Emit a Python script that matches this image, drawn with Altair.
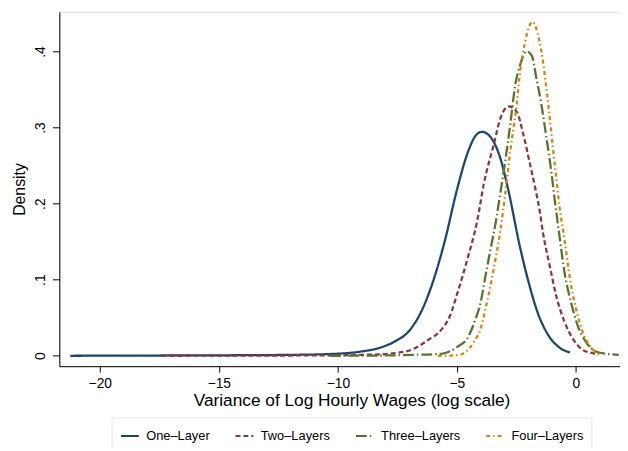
import altair as alt
import pandas as pd

series_names = ["One–Layer", "Two–Layers", "Three–Layers", "Four–Layers"]
series_colors = ["#1a476f", "#90353b", "#55752f", "#e37e00"]
series_dashes = [[1, 0], [5, 3], [11, 3, 1.5, 3], [4, 3, 1.5, 3]]

one_x = [-21.24, -18, -15, -12, -10.4, -9.0, -8.3, -7.6, -7.0, -6.5, -6.0, -5.5, -5.0,
         -4.5, -4.2, -3.95, -3.6, -3.2, -2.8, -2.4, -2.0, -1.6, -1.2, -0.7, -0.25]
one_y = [0.0, 0.0003, 0.0006, 0.0012, 0.0022, 0.0057, 0.010, 0.019, 0.033, 0.058, 0.098,
         0.152, 0.218, 0.271, 0.290, 0.2945, 0.288, 0.262, 0.212, 0.150, 0.098, 0.056,
         0.029, 0.011, 0.0044]

two_x = [-17.4, -14, -11, -9, -8, -7.6, -6.9, -6.2, -5.66, -5.3, -4.97, -4.56, -4.14,
         -3.87, -3.45, -3.17, -2.83, -2.49, -2.21, -1.93, -1.72, -1.52, -1.38, -1.10,
         -0.83, -0.48, -0.14, 0.28, 0.69, 0.97]
two_y = [0.0, 0.0002, 0.0005, 0.0012, 0.0022, 0.0035, 0.008, 0.021, 0.034, 0.052,
         0.0835, 0.127, 0.1786, 0.226, 0.278, 0.3126, 0.3278, 0.321, 0.291, 0.252,
         0.222, 0.190, 0.161, 0.118, 0.079, 0.0446, 0.023, 0.0078, 0.0035, 0.002]

three_x = [-10.33, -8, -6.77, -5.66, -5.25, -4.97, -4.56, -4.21, -4.00, -3.80, -3.59,
           -3.38, -3.17, -2.97, -2.76, -2.55, -2.35, -2.07, -1.86, -1.66, -1.45, -1.24,
           -1.04, -0.90, -0.69, -0.48, -0.21, 0.07, 0.41, 0.83, 1.38, 1.80]
three_y = [0.0, 0.0004, 0.0013, 0.0026, 0.0065, 0.012, 0.023, 0.049, 0.0706, 0.105,
           0.1397, 0.174, 0.215, 0.256, 0.304, 0.356, 0.382, 0.400, 0.395, 0.3645,
           0.330, 0.2866, 0.2435, 0.207, 0.157, 0.1095, 0.0706, 0.040, 0.0187, 0.0057,
           0.0022, 0.0013]

four_x = [-5.8, -5.3, -4.97, -4.70, -4.28, -4.00, -3.80, -3.59, -3.38, -3.17, -2.97,
          -2.76, -2.62, -2.49, -2.35, -2.14, -1.96, -1.82, -1.68, -1.55, -1.38, -1.24,
          -1.10, -0.97, -0.83, -0.69, -0.48, -0.27, 0.0, 0.28, 0.55, 0.83, 0.97]
four_y = [0.0, 0.0003, 0.001, 0.0035, 0.0187, 0.036, 0.062, 0.092, 0.127, 0.1656,
          0.213, 0.269, 0.300, 0.330, 0.373, 0.412, 0.4337, 0.439, 0.4315, 0.416,
          0.386, 0.3515, 0.3126, 0.2737, 0.2348, 0.196, 0.1527, 0.105, 0.062, 0.0316,
          0.0143, 0.0048, 0.002]

x_ticks = [-20, -15, -10, -5, 0]
y_ticks = [0, 0.1, 0.2, 0.3, 0.4]

rows = []
for name, xs, ys in zip(series_names,
                        [one_x, two_x, three_x, four_x],
                        [one_y, two_y, three_y, four_y]):
    for i, (xv, yv) in enumerate(zip(xs, ys)):
        rows.append({"series": name, "x": xv, "y": yv, "i": i})
df = pd.DataFrame(rows)

FONT = "Liberation Sans"

legend_kw = dict(title=None, orient="none", legendX=53, legendY=411,
                 direction="horizontal", columns=4, symbolType="stroke",
                 symbolSize=324, symbolStrokeWidth=2.2, labelFontSize=13,
                 labelFont=FONT, labelColor="black", labelOffset=6,
                 columnPadding=21, padding=8, strokeColor="#dfe6e9",
                 fillColor="white")

chart = alt.Chart(df).mark_line(strokeWidth=2.3, interpolate="monotone").encode(
    x=alt.X("x:Q",
            scale=alt.Scale(domain=[-21.7, 1.85], nice=False, zero=False),
            axis=alt.Axis(values=x_ticks, format="d", grid=False,
                          title="Variance of Log Hourly Wages (log scale)",
                          titleX=296, titleFontSize=17.5, titleFontWeight="normal",
                          titlePadding=1, labelFontSize=14, labelPadding=5,
                          tickSize=6, domainColor="black", tickColor="black",
                          labelColor="black", titleColor="black",
                          labelFont=FONT, titleFont=FONT)),
    y=alt.Y("y:Q",
            scale=alt.Scale(domain=[-0.0137, 0.4522], nice=False, zero=False),
            axis=alt.Axis(values=y_ticks, grid=False, title="Density",
                          labelExpr="datum.value == 0 ? '0' : replace(format(datum.value, '.1f'), '0.', '.')",
                          labelAngle=-90, labelAlign="center", labelBaseline="bottom",
                          labelFontSize=14, labelPadding=5, tickSize=7,
                          titleFontSize=16, titleFontWeight="normal", titlePadding=6,
                          domainColor="black", tickColor="black",
                          labelColor="black", titleColor="black",
                          labelFont=FONT, titleFont=FONT)),
    color=alt.Color("series:N",
                    scale=alt.Scale(domain=series_names, range=series_colors),
                    legend=alt.Legend(**legend_kw)),
    strokeDash=alt.StrokeDash("series:N",
                              scale=alt.Scale(domain=series_names, range=series_dashes),
                              legend=alt.Legend(**legend_kw)),
    order="i:Q",
).properties(
    width=568,
    height=359,
    autosize=alt.AutoSizeParams(type="none"),
    padding={"left": 52, "top": 1, "right": 0, "bottom": 80},
).configure_view(stroke=None).configure(background="white")

chart.save("out.html", embed_options={"renderer": "svg", "actions": False})
